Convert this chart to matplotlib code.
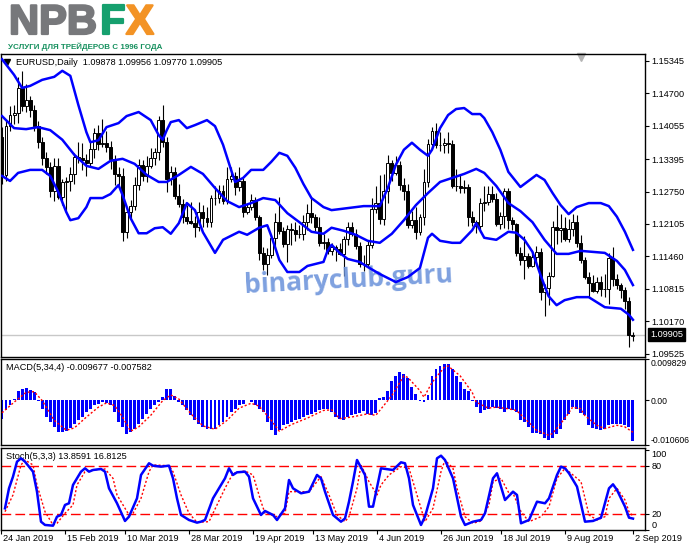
import numpy as np
import matplotlib
matplotlib.use('Agg')
import matplotlib.pyplot as plt
import matplotlib.patheffects as pe

plt.rcParams['font.family'] = ['Liberation Sans', 'DejaVu Sans']

# EURUSD daily candles, 24 Jan 2019 .. 2 Sep 2019
opens = [
    1.1383, 1.1307, 1.1406, 1.1428, 1.1431, 1.1480, 1.1445, 1.1456, 1.1437, 1.1406,
    1.1374, 1.1341, 1.1324, 1.1277, 1.1326, 1.1265, 1.1294, 1.1295, 1.1309, 1.1343,
    1.1341, 1.1337, 1.1332, 1.1360, 1.1391, 1.1370, 1.1371, 1.1364, 1.1339, 1.1309,
    1.1305, 1.1194, 1.1234, 1.1246, 1.1288, 1.1327, 1.1306, 1.1326, 1.1341, 1.1353,
    1.1418, 1.1373, 1.1299, 1.1313, 1.1266, 1.1250, 1.1224, 1.1217, 1.1213, 1.1204,
    1.1235, 1.1222, 1.1215, 1.1262, 1.1262, 1.1276, 1.1256, 1.1299, 1.1305, 1.1284,
    1.1295, 1.1235, 1.1245, 1.1259, 1.1224, 1.1153, 1.1131, 1.1149, 1.1183, 1.1215,
    1.1196, 1.1171, 1.1200, 1.1198, 1.1190, 1.1191, 1.1215, 1.1233, 1.1224, 1.1205,
    1.1172, 1.1174, 1.1157, 1.1165, 1.1161, 1.1150, 1.1180, 1.1204, 1.1191, 1.1166,
    1.1131, 1.1130, 1.1169, 1.1240, 1.1252, 1.1221, 1.1276, 1.1331, 1.1312, 1.1327,
    1.1288, 1.1276, 1.1209, 1.1219, 1.1194, 1.1225, 1.1293, 1.1370, 1.1396, 1.1367,
    1.1367, 1.1372, 1.1370, 1.1286, 1.1286, 1.1282, 1.1284, 1.1224, 1.1215, 1.1206,
    1.1252, 1.1254, 1.1271, 1.1261, 1.1211, 1.1226, 1.1276, 1.1219, 1.1210, 1.1152,
    1.1138, 1.1146, 1.1126, 1.1144, 1.1155, 1.1075, 1.1083, 1.1108, 1.1204, 1.1199,
    1.1202, 1.1180, 1.1200, 1.1214, 1.1172, 1.1139, 1.1106, 1.1093, 1.1078, 1.1095,
    1.1082, 1.1081, 1.1143, 1.1101, 1.1089, 1.1079, 1.1057, 1.09878]
highs = [
    1.1403, 1.1415, 1.1446, 1.1448, 1.1502, 1.1514, 1.1488, 1.1464, 1.1448, 1.1416,
    1.1383, 1.1353, 1.1334, 1.1341, 1.1342, 1.1300, 1.1303, 1.1323, 1.1352, 1.1373,
    1.1371, 1.1350, 1.1373, 1.1401, 1.1408, 1.1420, 1.1395, 1.1375, 1.1348, 1.1323,
    1.1321, 1.1245, 1.1259, 1.1303, 1.1339, 1.1338, 1.1345, 1.1362, 1.1362, 1.1425,
    1.1448, 1.1384, 1.1326, 1.1323, 1.1290, 1.1260, 1.1249, 1.1255, 1.1226, 1.1255,
    1.1248, 1.1244, 1.1269, 1.1285, 1.1288, 1.1287, 1.1324, 1.1323, 1.1314, 1.1323,
    1.1301, 1.1250, 1.1271, 1.1265, 1.1229, 1.1165, 1.1162, 1.1186, 1.1232, 1.1265,
    1.1204, 1.1208, 1.1213, 1.1215, 1.1209, 1.1228, 1.1251, 1.1264, 1.1231, 1.1225,
    1.1191, 1.1182, 1.1173, 1.1169, 1.1172, 1.1187, 1.1215, 1.1215, 1.1200, 1.1175,
    1.1148, 1.1176, 1.1263, 1.1285, 1.1307, 1.1309, 1.1348, 1.1338, 1.1346, 1.1335,
    1.1302, 1.1290, 1.1236, 1.1244, 1.1230, 1.1319, 1.1380, 1.1404, 1.1412, 1.1393,
    1.1382, 1.1393, 1.1377, 1.1319, 1.1308, 1.1298, 1.1290, 1.1236, 1.1219, 1.1262,
    1.1286, 1.1285, 1.1286, 1.1272, 1.1235, 1.1282, 1.1282, 1.1225, 1.1213, 1.1164,
    1.1187, 1.1152, 1.1154, 1.1166, 1.1162, 1.1092, 1.1115, 1.1217, 1.1249, 1.1230,
    1.1224, 1.1221, 1.1230, 1.1228, 1.1189, 1.1144, 1.1114, 1.1109, 1.1106, 1.1108,
    1.1112, 1.1153, 1.1164, 1.1112, 1.1094, 1.1085, 1.1066, 1.09956]
lows = [
    1.1289, 1.1296, 1.1395, 1.1409, 1.1411, 1.1435, 1.1433, 1.1423, 1.1396, 1.1362,
    1.1327, 1.1310, 1.1265, 1.1257, 1.1260, 1.1249, 1.1235, 1.1277, 1.1290, 1.1331,
    1.1318, 1.1306, 1.1323, 1.1341, 1.1357, 1.1364, 1.1354, 1.1320, 1.1288, 1.1286,
    1.1176, 1.1183, 1.1222, 1.1239, 1.1279, 1.1295, 1.1293, 1.1321, 1.1327, 1.1338,
    1.1363, 1.1275, 1.1287, 1.1261, 1.1245, 1.1213, 1.1211, 1.1210, 1.1184, 1.1197,
    1.1205, 1.1204, 1.1205, 1.1249, 1.1252, 1.1250, 1.1251, 1.1293, 1.1268, 1.1277,
    1.1225, 1.1231, 1.1238, 1.1218, 1.1138, 1.1118, 1.1110, 1.1143, 1.1163, 1.1191,
    1.1164, 1.1134, 1.1168, 1.1176, 1.1182, 1.1179, 1.1199, 1.1213, 1.1197, 1.1166,
    1.1160, 1.1150, 1.1149, 1.1137, 1.1149, 1.1107, 1.1169, 1.1187, 1.1161, 1.1125,
    1.1116, 1.1124, 1.1162, 1.1232, 1.1211, 1.1208, 1.1252, 1.1295, 1.1307, 1.1278,
    1.1259, 1.1202, 1.1202, 1.1181, 1.1189, 1.1209, 1.1283, 1.1362, 1.1361, 1.1356,
    1.1351, 1.1352, 1.1281, 1.1276, 1.1272, 1.1273, 1.1207, 1.1206, 1.1193, 1.1194,
    1.1236, 1.1248, 1.1255, 1.1206, 1.1200, 1.1202, 1.1201, 1.1199, 1.1146, 1.1128,
    1.1102, 1.1122, 1.1125, 1.1134, 1.1060, 1.1027, 1.1049, 1.1105, 1.1170, 1.1174,
    1.1176, 1.1175, 1.1186, 1.1165, 1.1133, 1.1101, 1.1066, 1.1075, 1.1074, 1.1068,
    1.1065, 1.1051, 1.1087, 1.1082, 1.1063, 1.1042, 1.0965, 1.09770]
closes = [
    1.1307, 1.1406, 1.1428, 1.1431, 1.1480, 1.1445, 1.1456, 1.1437, 1.1406, 1.1374,
    1.1341, 1.1324, 1.1277, 1.1326, 1.1265, 1.1294, 1.1295, 1.1309, 1.1343, 1.1341,
    1.1337, 1.1332, 1.1360, 1.1391, 1.1370, 1.1371, 1.1364, 1.1339, 1.1309, 1.1305,
    1.1194, 1.1234, 1.1246, 1.1288, 1.1327, 1.1306, 1.1326, 1.1341, 1.1353, 1.1418,
    1.1373, 1.1299, 1.1313, 1.1266, 1.1250, 1.1224, 1.1217, 1.1213, 1.1204, 1.1235,
    1.1222, 1.1215, 1.1262, 1.1262, 1.1276, 1.1256, 1.1299, 1.1305, 1.1284, 1.1295,
    1.1235, 1.1245, 1.1259, 1.1224, 1.1153, 1.1131, 1.1149, 1.1183, 1.1215, 1.1196,
    1.1171, 1.1200, 1.1198, 1.1190, 1.1191, 1.1215, 1.1233, 1.1224, 1.1205, 1.1172,
    1.1174, 1.1157, 1.1165, 1.1161, 1.1150, 1.1180, 1.1204, 1.1191, 1.1166, 1.1131,
    1.1130, 1.1169, 1.1240, 1.1252, 1.1221, 1.1276, 1.1331, 1.1312, 1.1327, 1.1288,
    1.1276, 1.1209, 1.1219, 1.1194, 1.1225, 1.1293, 1.1370, 1.1396, 1.1367, 1.1367,
    1.1372, 1.1370, 1.1286, 1.1286, 1.1282, 1.1284, 1.1224, 1.1215, 1.1206, 1.1252,
    1.1254, 1.1271, 1.1261, 1.1211, 1.1226, 1.1276, 1.1219, 1.1210, 1.1152, 1.1138,
    1.1146, 1.1126, 1.1144, 1.1155, 1.1075, 1.1083, 1.1108, 1.1204, 1.1199, 1.1202,
    1.1180, 1.1200, 1.1214, 1.1172, 1.1139, 1.1106, 1.1093, 1.1078, 1.1095, 1.1082,
    1.1081, 1.1143, 1.1101, 1.1089, 1.1079, 1.1057, 1.0989, 1.09905]

# Bollinger bands (read at sample bars)
bb_up_idx = [0, 3, 5, 7, 10, 13, 15, 17, 19, 21, 22, 24, 26, 29, 31, 34, 37, 39, 40, 41,
             42, 44, 46, 48, 51, 53, 55, 57, 58, 60, 62, 65, 67, 69, 71, 73, 75, 77, 80, 82,
             86, 90, 94, 96, 98, 100, 102, 104, 106, 107, 109, 111, 113, 115, 117, 119, 120, 122, 124, 126,
             129, 131, 133, 135, 137, 139, 141, 143, 146, 149, 151, 153, 155, 157]
bb_up = [1.1538, 1.1507, 1.1481, 1.1485, 1.1497, 1.1503, 1.1515, 1.1505, 1.1447, 1.1393,
         1.1373, 1.1377, 1.1403, 1.1411, 1.1425, 1.1433, 1.1417, 1.1387, 1.1378, 1.1397,
         1.1413, 1.1417, 1.1401, 1.1407, 1.1417, 1.1405, 1.1368, 1.1318, 1.1294, 1.1302,
         1.1318, 1.1318, 1.1334, 1.1352, 1.1346, 1.1322, 1.1290, 1.1262, 1.1244, 1.1238,
         1.1242, 1.1246, 1.1246, 1.1282, 1.1328, 1.1358, 1.1372, 1.1358, 1.1346, 1.1358,
         1.1401, 1.1427, 1.1439, 1.1441, 1.1429, 1.1429, 1.1421, 1.1393, 1.1358, 1.1314,
         1.1284, 1.1296, 1.1308, 1.1298, 1.1272, 1.1248, 1.1230, 1.1244, 1.1252, 1.1252,
         1.1246, 1.1225, 1.1195, 1.1159]
bb_mid_idx = [0, 3, 6, 9, 12, 15, 18, 21, 24, 27, 30, 33, 36, 39, 41, 44, 47, 50, 53, 56,
              59, 62, 65, 68, 71, 74, 77, 80, 82, 85, 88, 91, 94, 97, 100, 103, 106, 109, 112, 115,
              118, 120, 123, 126, 129, 132, 135, 138, 141, 144, 147, 150, 153, 155, 157]
bb_mid = [1.1425, 1.1401, 1.1399, 1.1403, 1.1397, 1.1378, 1.1348, 1.1326, 1.1320, 1.1336,
          1.1340, 1.1330, 1.1308, 1.1294, 1.1294, 1.1308, 1.1324, 1.1310, 1.1282, 1.1256,
          1.1244, 1.1252, 1.1262, 1.1258, 1.1232, 1.1214, 1.1195, 1.1191, 1.1203, 1.1197,
          1.1189, 1.1177, 1.1173, 1.1191, 1.1218, 1.1248, 1.1272, 1.1294, 1.1302, 1.1310,
          1.1320, 1.1312, 1.1286, 1.1252, 1.1236, 1.1214, 1.1179, 1.1151, 1.1151, 1.1157,
          1.1155, 1.1153, 1.1137, 1.1119, 1.1089]
bb_low_idx = [0, 2, 4, 7, 10, 12, 14, 16, 17, 19, 21, 22, 25, 27, 29, 30, 32, 34, 36, 38,
              40, 42, 44, 46, 48, 50, 53, 55, 59, 61, 64, 66, 67, 69, 71, 74, 76, 80, 81, 82,
              84, 86, 89, 91, 94, 98, 101, 104, 106, 107, 109, 112, 114, 117, 118, 120, 123, 126, 128, 130,
              132, 134, 136, 138, 140, 143, 146, 148, 150, 154, 156, 157]
bb_low = [1.1306, 1.1296, 1.1312, 1.1318, 1.1318, 1.1306, 1.1274, 1.1234, 1.1218, 1.1222,
          1.1244, 1.1262, 1.1262, 1.1270, 1.1288, 1.1268, 1.1222, 1.1192, 1.1192, 1.1202,
          1.1204, 1.1191, 1.1212, 1.1252, 1.1238, 1.1194, 1.1153, 1.1179, 1.1195, 1.1189,
          1.1203, 1.1208, 1.1187, 1.1139, 1.1115, 1.1115, 1.1127, 1.1135, 1.1157, 1.1169,
          1.1153, 1.1141, 1.1135, 1.1125, 1.1111, 1.1095, 1.1105, 1.1123, 1.1183, 1.1191,
          1.1177, 1.1173, 1.1173, 1.1198, 1.1212, 1.1183, 1.1179, 1.1195, 1.1193, 1.1179,
          1.1155, 1.1109, 1.1067, 1.1049, 1.1059, 1.1065, 1.1065, 1.1055, 1.1045, 1.1042,
          1.1030, 1.1020]

# MACD(5,34,4) histogram for every bar, signal line at sample bars
macd_hist = [
    -0.00435, -0.00239, -0.00122, 0.00034, 0.0023, 0.0027, 0.00293, 0.00246, 0.00191, -0.00005,
    -0.0020, -0.00396, -0.00514, -0.00631, -0.00749, -0.00749, -0.00733, -0.00655, -0.00553, -0.00475,
    -0.00396, -0.00278, -0.0020, -0.00122, -0.00083, -0.00044, -0.0006, -0.00122, -0.00278, -0.00514,
    -0.00631, -0.00788, -0.00749, -0.0067, -0.00553, -0.00435, -0.0032, -0.0020, -0.00122, -0.00044,
    0.00074, 0.0027, 0.0027, 0.00113, -0.00028, -0.00122, -0.00239, -0.00357, -0.00475, -0.00553,
    -0.00631, -0.0067, -0.00686, -0.0067, -0.00592, -0.00514, -0.00396, -0.00278, -0.0020, -0.00122,
    -0.00083, 0.00011, -0.00044, -0.00122, -0.0020, -0.00278, -0.00514, -0.0071, -0.00827, -0.0071,
    -0.00592, -0.00553, -0.00514, -0.00475, -0.00435, -0.00396, -0.00357, -0.0032, -0.00278, -0.00239,
    -0.0020, -0.00216, -0.00278, -0.00396, -0.00435, -0.00475, -0.00396, -0.00357, -0.0032, -0.00294,
    -0.00263, -0.0032, -0.00357, -0.00294, 0.0005, 0.00074, 0.0023, 0.00465, 0.00583, 0.00677,
    0.00622, 0.00543, 0.00309, 0.00152, -0.0002, -0.00044, 0.00128, 0.00583, 0.00739, 0.00817,
    0.00857, 0.00857, 0.00739, 0.00583, 0.00426, 0.0027, 0.0023, -0.00005, -0.00161, -0.00294,
    -0.00239, -0.0020, -0.00161, -0.00185, -0.0020, -0.00278, -0.0020, -0.00239, -0.00278, -0.00475,
    -0.00514, -0.00631, -0.00764, -0.00764, -0.00788, -0.00905, -0.00944, -0.00905, -0.00788, -0.0067,
    -0.00475, -0.0032, -0.00161, -0.0020, -0.00294, -0.00357, -0.00576, -0.00655, -0.00686, -0.0071,
    -0.00686, -0.00592, -0.00553, -0.00553, -0.00553, -0.00592, -0.00631, -0.009677]
macd_sig_idx = [0, 3, 6, 8, 10, 13, 16, 18, 21, 24, 26, 28, 30, 32, 34, 37, 40, 42, 44, 47,
                50, 53, 56, 59, 62, 64, 67, 69, 72, 76, 80, 82, 84, 87, 91, 93, 95, 97, 100, 101,
                104, 105, 107, 110, 111, 114, 117, 118, 121, 123, 126, 128, 131, 133, 136, 137, 140, 142, 144, 145,
                148, 150, 153, 155, 157]
macd_sig = [-0.00296, -0.00044, 0.00191, 0.00207, -0.00005, -0.00475, -0.0071, -0.00655, -0.00396, -0.00161,
            -0.0006, -0.00122, -0.00396, -0.00733, -0.00631, -0.00357, -0.00005, 0.00128, 0.00034, -0.0032,
            -0.00608, -0.00686, -0.00475, -0.00185, -0.00068, -0.00138, -0.00475, -0.00733, -0.00576, -0.0042,
            -0.00239, -0.00224, -0.00435, -0.00396, -0.0032, -0.00357, -0.00122, 0.00113, 0.00583, 0.00543,
            0.0023, 0.00074, 0.00426, 0.00778, 0.00817, 0.00583, 0.00191, -0.00044, -0.00185, -0.00161,
            -0.0020, -0.00239, -0.00514, -0.0071, -0.00827, -0.00788, -0.00435, -0.00161, -0.0020, -0.00357,
            -0.00592, -0.0067, -0.00592, -0.00631, -0.007582]

# Stochastic(5,3,3)
stoch_k_idx = [0, 1, 2, 3, 4, 5, 7, 8, 9, 10, 12, 13, 14, 15, 16, 17, 19, 20, 21, 22,
               24, 25, 26, 28, 30, 31, 33, 34, 36, 37, 39, 41, 42, 43, 44, 46, 48, 49, 50, 52,
               54, 55, 56, 57, 58, 60, 61, 62, 64, 65, 67, 68, 70, 71, 72, 74, 76, 78, 79, 80,
               82, 84, 85, 86, 87, 88, 90, 91, 92, 94, 97, 99, 100, 101, 102, 104, 105, 107, 108, 109,
               110, 112, 114, 115, 117, 119, 120, 122, 123, 125, 127, 128, 129, 131, 133, 135, 136, 138, 139, 140,
               141, 143, 145, 147, 149, 151, 152, 153, 155, 156, 157]
stoch_k = [26.7, 51.7, 66.3, 85.0, 89.2, 85.0, 72.5, 47.5, 10.0, 5.9, 5.0, 16.3, 18.4, 30.9, 33.0, 55.9, 72.5, 76.7, 72.5, 74.6,
           75.9, 72.5, 51.7, 33.0, 10.9, 16.3, 39.2, 68.4, 83.0, 80.0, 78.8, 80.0, 64.2, 39.2, 18.4, 12.1, 8.8, 10.0, 12.1, 39.2,
           55.9, 64.2, 76.7, 68.4, 71.7, 72.5, 66.3, 39.2, 18.4, 23.4, 18.4, 12.1, 26.7, 62.1, 51.7, 45.5, 47.5, 68.4, 64.2, 47.5,
           18.4, 10.0, 14.0, 35.0, 60.0, 87.1, 68.4, 28.8, 28.8, 76.7, 74.6, 84.2, 83.0, 64.2, 30.9, 5.9, 16.3, 51.7, 89.2, 92.5,
           87.1, 64.2, 16.3, 5.9, 10.0, 12.1, 20.5, 64.2, 70.5, 37.1, 47.5, 43.4, 8.0, 12.1, 35.0, 33.0, 39.2, 68.4, 78.8, 76.7,
           70.5, 53.8, 10.0, 10.9, 15.0, 51.7, 56.7, 49.6, 28.8, 15.0, 13.86]
stoch_d_idx = [0, 2, 4, 5, 7, 8, 10, 12, 13, 15, 17, 18, 20, 22, 25, 27, 28, 31, 32, 34,
               36, 37, 41, 42, 44, 46, 48, 51, 53, 55, 57, 60, 62, 64, 65, 68, 70, 71, 74, 76,
               79, 81, 83, 85, 86, 88, 89, 91, 93, 94, 96, 99, 101, 102, 104, 105, 107, 109, 110, 112,
               113, 115, 117, 119, 121, 122, 124, 126, 127, 129, 131, 134, 136, 138, 140, 141, 144, 146, 148, 150,
               151, 153, 155, 156, 157]
stoch_d = [22.5, 43.4, 80.9, 87.1, 80.9, 55.9, 22.5, 5.9, 8.0, 20.5, 30.9, 55.9, 72.5, 74.6, 75.9, 64.2, 43.4, 18.4, 20.5, 39.2,
           72.5, 80.9, 80.0, 72.5, 43.4, 20.5, 9.2, 10.0, 30.9, 51.7, 70.5, 73.4, 68.4, 35.0, 20.5, 16.3, 20.5, 47.5, 47.5, 47.5,
           66.3, 43.4, 18.4, 10.0, 16.3, 51.7, 80.9, 60.0, 43.4, 55.9, 68.4, 78.8, 76.7, 60.0, 26.7, 10.0, 26.7, 72.5, 87.1, 76.7,
           51.7, 16.3, 8.0, 10.9, 30.9, 60.0, 64.2, 45.5, 45.5, 22.5, 10.0, 16.3, 28.8, 64.2, 76.7, 72.5, 60.0, 18.4, 12.1, 16.3,
           39.2, 51.7, 37.1, 22.5, 16.81]

price_ticks = [1.15345, 1.14700, 1.14055, 1.13395, 1.12750, 1.12105, 1.11460, 1.10815, 1.10170, 1.09525]
last_price = 1.09905
date_idx = [-1, 15, 30, 46, 62, 77, 93, 109, 124, 140, 157]
date_labels = ['24 Jan 2019', '15 Feb 2019', '10 Mar 2019', '28 Mar 2019', '19 Apr 2019', '13 May 2019',
               '4 Jun 2019', '26 Jun 2019', '18 Jul 2019', '9 Aug 2019', '2 Sep 2019']

W, H = 691, 549
FS = 6.6


def box(x0, y0, x1, y1):
    # pixel box -> figure fraction rect
    return [x0 / W, 1 - y1 / H, (x1 - x0) / W, (y1 - y0) / H]


def px(x, y):
    return x / W, 1 - y / H


fig = plt.figure(figsize=(6.91, 5.49), dpi=100)
fig.patch.set_facecolor('white')

ax = fig.add_axes(box(1, 54, 645, 357))
ax_macd = fig.add_axes(box(1, 359, 645, 445))
ax_st = fig.add_axes(box(1, 448, 645, 530))

bars = np.arange(len(closes))
for a in (ax, ax_macd, ax_st):
    a.set_xlim(-0.25, 160)
    a.yaxis.tick_right()
    a.tick_params(axis='y', direction='out', length=3, width=0.8, labelsize=FS, pad=1.5)
    a.tick_params(axis='x', bottom=False, labelbottom=False)
    for s in a.spines.values():
        s.set_linewidth(1.0)
        s.set_color('black')

# --- price panel ---
o = np.array(opens)
c = np.array(closes)
up = c >= o
ax.axhline(last_price, color='#c8c8c8', lw=1.0, zorder=1)
ax.vlines(bars, lows, highs, color='black', lw=0.8, zorder=3)
ax.bar(bars[up], (c - o)[up], bottom=o[up], width=0.72, color='white', edgecolor='black', lw=0.7, zorder=4)
ax.bar(bars[~up], (c - o)[~up], bottom=o[~up], width=0.72, color='black', edgecolor='black', lw=0.7, zorder=4)
ax.text(0.54, 0.255, 'binaryclub.guru', transform=ax.transAxes, rotation=3, ha='center', va='center',
        fontsize=19, fontweight='bold', family='Open Sans', color='#7096dc', alpha=0.9, zorder=4.5)
ax.plot(bb_up_idx, bb_up, color='#0000ff', lw=1.8, zorder=5)
ax.plot(bb_mid_idx, bb_mid, color='#0000ff', lw=1.8, zorder=5)
ax.plot(bb_low_idx, bb_low, color='#0000ff', lw=1.8, zorder=5)
ax.set_ylim(1.09460, 1.15484)
ax.set_yticks(price_ticks)
ax.set_yticklabels(['%.5f' % t for t in price_ticks])
ax.annotate('%.5f' % last_price, xy=(1, last_price), xycoords=('axes fraction', 'data'),
            xytext=(3.5, 0), textcoords='offset points', ha='left', va='center', fontsize=FS,
            color='white', annotation_clip=False,
            bbox=dict(boxstyle='square,pad=0.25', fc='black', ec='black'))
ax.text(15 / 644, 0.972, 'EURUSD,Daily  1.09878 1.09956 1.09770 1.09905', transform=ax.transAxes,
        fontsize=FS, va='center', ha='left', color='black')
ax.plot([6 / 644], [0.972], marker='v', color='black', ms=4, transform=ax.transAxes, clip_on=False)
ax.plot([580 / 644], [0.99], marker='v', color='#b4b4b4', ms=6, transform=ax.transAxes, clip_on=False)

# --- MACD panel ---
ax_macd.bar(bars, macd_hist, width=0.72, color='#0000ff', zorder=2)
ax_macd.plot(macd_sig_idx, macd_sig, color='red', ls=(0, (1.5, 1.5)), lw=1.0, zorder=3)
ax_macd.set_ylim(-0.010606, 0.009829)
ax_macd.set_yticks([-0.010606, 0.0, 0.009829])
ax_macd.set_yticklabels(['-0.010606', '0.00', '0.009829'])
ax_macd.tick_params(axis='y', labelsize=6.2, pad=1)
labs = ax_macd.get_yticklabels()
labs[0].set_va('bottom')
labs[-1].set_va('top')
ax_macd.text(5 / 644, 0.9, 'MACD(5,34,4) -0.009677 -0.007582', transform=ax_macd.transAxes,
             fontsize=FS, va='center', ha='left')

# --- Stochastic panel ---
ax_st.axhline(80, color='red', lw=1.0, dashes=(7, 3), zorder=1)
ax_st.axhline(20, color='red', lw=1.0, dashes=(7, 3), zorder=1)
ax_st.plot(stoch_d_idx, stoch_d, color='red', ls=(0, (1.5, 1.5)), lw=1.0, zorder=3)
ax_st.plot(stoch_k_idx, stoch_k, color='#0000ff', lw=1.8, zorder=4)
ax_st.set_ylim(-0.4, 102.1)
ax_st.set_yticks([0, 20, 80, 100])
ax_st.set_yticklabels(['0', '20', '80', '100'])
labs = ax_st.get_yticklabels()
labs[0].set_va('bottom')
labs[-1].set_va('top')
ax_st.text(5 / 644, 0.9, 'Stoch(5,3,3) 13.8591 16.8125', transform=ax_st.transAxes,
           fontsize=FS, va='center', ha='left')
ax_st.set_xticks(date_idx)
ax_st.tick_params(axis='x', bottom=True, length=3, width=0.8, direction='out', labelbottom=False)
for i, lab in zip(date_idx, date_labels):
    ax_st.annotate(lab, xy=(i, 0), xycoords=('data', 'axes fraction'), xytext=(1.8, -3),
                   textcoords='offset points', ha='left', va='top', fontsize=FS, annotation_clip=False)

# --- logo ---
for txt, x0, col in (('NPB', 9, '#77787b'), ('F', 100, '#16a06e'), ('X', 126, '#f39325')):
    fig.text(*px(x0, 23), txt, fontsize=30, fontweight='bold', family='Liberation Sans', color=col,
             va='center', path_effects=[pe.withStroke(linewidth=1.6, foreground=col)])
fig.text(*px(8, 47), 'УСЛУГИ ДЛЯ ТРЕЙДЕРОВ С 1996 ГОДА', fontsize=5.8, fontweight='bold',
         family='Liberation Sans', color='#16905e', va='center')

fig.savefig('out.png', dpi=100)
